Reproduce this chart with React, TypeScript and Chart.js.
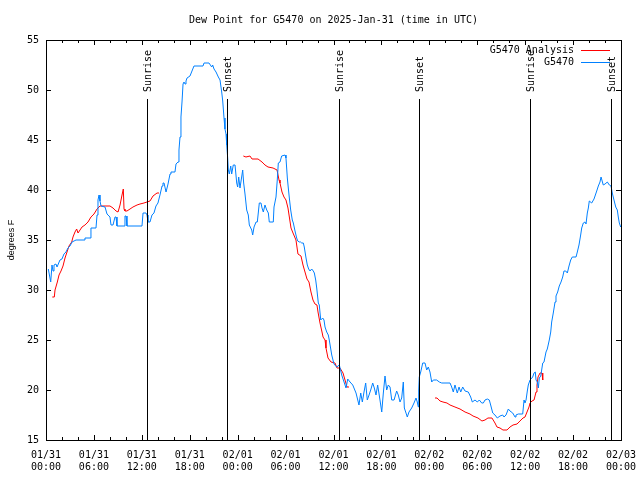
import React, { useEffect, useRef } from "react";
import { Chart, registerables } from "chart.js";

Chart.register(...registerables);

const TITLE = "Dew Point for G5470 on 2025-Jan-31 (time in UTC)";
const Y_TITLE = "degrees F";
const X_DAY_LABELS = ["01/31", "02/01", "02/02", "02/03"];
const Y_MIN = 15;
const Y_MAX = 55;
const X_MIN = 0;
const X_MAX = 72;

// hours since 01/31 00:00 UTC
const obsHours = [
  0.29, 0.59, 0.75, 0.88, 1.0, 1.25, 1.38, 1.75, 2.0, 2.25, 2.5, 2.75, 3.0, 3.26, 3.51, 3.76, 4.76, 4.88, 5.51, 5.63,
  6.26, 6.39, 6.51, 6.64, 6.76, 6.89, 7.39, 7.64, 8.01, 8.14, 8.39, 8.64, 8.77, 8.89, 9.77, 9.89, 10.02, 10.14, 12.02, 12.15,
  12.52, 12.65, 12.77, 13.02, 13.27, 13.52, 13.77, 14.02, 14.27, 14.53, 14.65, 14.78, 15.03, 15.28, 15.53, 15.65, 16.15, 16.28, 16.53, 16.65,
  16.78, 16.9, 17.03, 17.16, 17.28, 17.41, 17.53, 17.66, 18.03, 18.28, 18.53, 19.66, 19.79, 20.41, 20.75, 20.87, 21.04, 21.29, 21.58, 21.79,
  22.0, 22.13, 22.29, 22.41, 22.54, 22.63, 22.75, 22.83, 22.95, 23.13, 23.25, 23.45, 23.67, 23.88, 24.0, 24.13, 24.29, 24.5, 24.63, 24.75,
  24.92, 25.13, 25.33, 25.46, 25.76, 25.88, 26.05, 26.3, 26.46, 26.58, 26.71, 26.92, 27.05, 27.21, 27.42, 27.64, 27.84, 27.96, 28.46, 28.55,
  28.8, 28.96, 29.09, 29.3, 29.51, 29.93, 30.05, 30.22, 30.34, 30.47, 30.64, 30.84, 30.97, 31.18, 31.39, 31.52, 31.72, 31.89, 32.02, 32.22,
  32.34, 32.56, 32.72, 32.89, 33.06, 33.27, 33.47, 33.6, 33.77, 33.9, 34.1, 34.22, 34.4, 34.65, 34.81, 34.94, 35.15, 35.35, 35.47, 35.78,
  36.06, 36.4, 36.73, 37.03, 37.32, 37.57, 37.78, 38.07, 38.41, 38.82, 39.19, 39.41, 39.61, 39.82, 40.03, 40.23, 40.45, 40.66, 40.91, 41.11,
  41.32, 41.53, 41.82, 42.04, 42.24, 42.45, 42.66, 42.86, 43.08, 43.29, 43.58, 43.91, 44.11, 44.33, 44.54, 44.74, 44.87, 45.08, 45.24, 45.45,
  45.79, 46.08, 46.33, 46.49, 46.62, 46.67, 46.74, 46.92, 47.17, 47.46, 47.67, 47.87, 48.08, 48.3, 48.5, 48.92, 49.25, 49.55, 50.59, 50.8,
  51.0, 51.21, 51.5, 51.72, 51.93, 52.18, 52.47, 52.88, 53.18, 53.38, 53.72, 54.01, 54.26, 54.56, 54.76, 54.97, 55.26, 55.51, 55.68, 55.94,
  56.22, 56.51, 56.85, 57.19, 57.35, 57.6, 57.89, 58.1, 58.44, 58.73, 58.85, 59.14, 59.69, 59.86, 59.98, 60.11, 60.27, 60.39, 60.61, 60.94,
  61.11, 61.27, 61.36, 61.52, 61.65, 61.77, 61.95, 62.2, 62.36, 62.61, 62.77, 63.02, 63.2, 63.32, 63.52, 63.74, 63.86, 64.07, 64.27, 64.49,
  64.7, 64.86, 65.08, 65.28, 65.49, 65.7, 65.9, 66.37, 66.53, 66.74, 66.95, 67.08, 67.28, 67.49, 67.62, 67.78, 67.91, 68.03, 68.33, 68.62,
  68.96, 69.16, 69.37, 69.5, 69.78, 70.0, 70.29, 70.54, 70.75, 70.91, 71.12, 71.34, 71.54, 71.66, 71.79, 71.96,
];

const obsValues = [
  32.1, 30.8, 32.5, 31.9, 32.5, 32.6, 32.3, 33.0, 33.1, 33.6, 33.8, 34.2, 34.4, 34.8, 34.9, 35.0, 35.0, 35.2, 35.2, 36.2,
  36.2, 37.5, 39.0, 39.5, 38.9, 38.4, 38.3, 37.6, 37.3, 36.5, 36.5, 37.3, 37.3, 36.4, 36.4, 37.4, 37.4, 36.4, 36.4, 37.7,
  37.7, 37.5, 36.8, 36.8, 37.5, 37.7, 38.4, 38.7, 39.5, 40.4, 40.7, 40.7, 39.8, 40.6, 41.6, 41.8, 41.8, 42.6, 42.8, 44.0,
  45.3, 47.3, 48.8, 50.6, 50.8, 50.6, 50.9, 51.2, 51.4, 51.9, 52.4, 52.4, 52.7, 52.7, 52.3, 52.5, 52.1, 51.8, 51.3, 51.0,
  49.8, 48.9, 47.2, 46.1, 45.6, 44.5, 43.2, 42.0, 41.6, 42.4, 41.6, 42.5, 42.5, 40.7, 40.3, 41.3, 40.2, 41.3, 42.0, 40.7,
  39.6, 38.0, 37.5, 36.5, 36.0, 35.5, 36.3, 36.8, 36.8, 37.7, 38.7, 38.7, 38.2, 37.8, 38.5, 38.0, 37.7, 36.8, 36.8, 38.3,
  39.3, 41.0, 42.7, 42.8, 43.4, 43.5, 43.2, 41.2, 40.2, 39.2, 38.0, 37.0, 36.7, 35.9, 35.2, 34.9, 34.8, 34.8, 34.7, 34.7,
  34.3, 33.2, 32.5, 32.1, 31.9, 32.1, 31.9, 31.7, 31.0, 30.2, 28.7, 28.5, 27.0, 27.2, 27.0, 26.3, 25.8, 25.5, 25.0, 23.5,
  22.6, 22.3, 22.5, 21.5, 20.8, 20.2, 21.1, 20.8, 20.5, 19.7, 18.5, 19.7, 18.8, 19.8, 20.7, 19.0, 19.5, 20.0, 20.7, 20.2,
  19.5, 20.5, 19.0, 17.8, 19.7, 21.4, 20.0, 20.5, 20.3, 19.0, 19.0, 19.9, 19.5, 18.8, 19.2, 20.8, 18.2, 17.7, 17.3, 17.8,
  18.2, 18.7, 19.2, 18.8, 18.3, 20.0, 21.3, 21.8, 22.7, 22.7, 22.0, 22.3, 21.8, 20.8, 21.0, 21.0, 20.8, 20.7, 20.7, 20.3,
  19.8, 20.5, 19.7, 20.3, 19.8, 20.3, 19.9, 19.8, 19.3, 18.8, 19.0, 18.8, 19.0, 18.7, 18.7, 19.0, 19.1, 19.0, 18.5, 17.7,
  17.5, 17.2, 17.4, 17.5, 17.3, 17.5, 18.1, 17.9, 17.7, 17.3, 17.5, 17.6, 17.6, 19.0, 18.7, 19.0, 19.9, 20.5, 21.0, 21.3,
  21.7, 21.8, 21.0, 20.8, 20.2, 21.2, 21.4, 22.7, 22.8, 23.8, 24.1, 25.0, 25.8, 26.8, 27.7, 28.8, 29.4, 29.8, 30.4, 30.8,
  31.3, 31.9, 31.9, 31.7, 32.4, 33.0, 33.3, 33.3, 33.8, 34.5, 35.5, 36.2, 36.7, 36.8, 36.6, 37.7, 38.2, 38.9, 38.7, 39.1,
  39.9, 40.4, 40.8, 41.3, 40.5, 40.6, 40.8, 40.5, 40.4, 39.7, 39.0, 38.3, 38.0, 37.3, 36.7, 36.3,
];

// null values mark gaps in the analysis series
const anaHours = [
  0.79, 1.04, 1.13, 1.42, 1.63, 1.88, 2.13, 2.38, 2.63, 2.88, 3.22, 3.38, 3.63, 3.84, 4.01, 4.26, 4.51, 4.88, 5.26, 5.63,
  6.01, 6.39, 6.76, 8.01, 8.39, 8.77, 9.02, 9.27, 9.52, 9.68, 9.77, 9.89, 10.14, 10.52, 10.89, 11.4, 11.77, 12.27, 13.02, 13.4,
  13.9, 14.15, 19.0,
  24.71, 25.04, 25.54, 25.8, 26.55, 27.05, 27.42, 27.8, 28.43, 28.93, 29.18, 29.3, 29.55, 29.8, 30.05, 30.3, 30.49, 30.68, 30.93, 31.3,
  31.55, 31.93, 32.18, 32.43, 32.68, 32.93, 33.18, 33.43, 33.68, 33.93, 34.06, 34.31, 34.56, 34.69, 34.94, 35.06, 35.31, 35.69, 36.19, 36.44,
  36.81, 37.19, 37.44, 37.69, 37.94, 43.0,
  48.71, 48.96, 49.34, 49.71, 50.21, 50.59, 51.21, 51.84, 52.47, 53.09, 53.47, 54.09, 54.59, 54.97, 55.34, 55.84, 56.22, 56.47, 56.85, 57.22,
  57.72, 58.1, 58.48, 58.98, 59.35, 59.73, 59.98, 60.23, 60.48, 60.61, 60.86, 61.11, 61.36, 61.48, 61.61, 61.86, 62.11, 62.2,
];

const anaValues = [
  29.3, 29.3, 30.0, 30.8, 31.5, 31.9, 32.4, 33.2, 33.8, 34.4, 34.8, 35.3, 35.8, 36.1, 35.7, 36.0, 36.3, 36.5, 36.8, 37.3,
  37.6, 38.1, 38.4, 38.4, 38.2, 37.9, 37.8, 38.5, 39.5, 40.1, 38.1, 37.9, 37.9, 38.1, 38.3, 38.5, 38.6, 38.7, 38.9, 39.4,
  39.7, 39.7, null,
  43.4, 43.3, 43.4, 43.1, 43.1, 42.8, 42.5, 42.3, 42.2, 42.0, 41.0, 40.7, 39.8, 39.3, 39.0, 38.2, 37.2, 36.2, 35.7, 35.0,
  33.6, 33.4, 32.5, 31.8, 31.1, 30.8, 29.8, 29.0, 28.6, 28.5, 27.8, 26.7, 25.8, 25.3, 25.0, 24.2, 23.2, 22.8, 22.7, 22.2,
  22.2, 21.7, 21.0, 20.3, 20.3, null,
  19.2, 19.2, 18.9, 18.8, 18.7, 18.5, 18.3, 18.1, 17.8, 17.6, 17.4, 17.2, 16.9, 17.0, 17.2, 17.2, 16.7, 16.3, 16.2, 16.0,
  16.0, 16.3, 16.5, 16.6, 16.9, 17.2, 17.3, 17.8, 18.3, 18.7, 18.9, 19.0, 19.8, 20.5, 21.3, 21.7, 21.7, 21.0,
];

const sunHours = [12.65, 22.7, 36.73, 46.74, 60.6, 70.8];
const sunLabels = ["Sunrise", "Sunset", "Sunrise", "Sunset", "Sunrise", "Sunset"];

const seriesNames = ["G5470 Analysis", "G5470"];
const seriesColors = ["#ff0000", "#0080ff"];

const MONO = "'DejaVu Sans Mono', 'Liberation Mono', monospace";

const decorPlugin = {
  id: "gnuplotDecor",
  afterDatasetsDraw(chart: any) {
    const { ctx, chartArea, scales } = chart;
    const xs = scales.x;
    const ys = scales.y;
    const L = chartArea.left, R = chartArea.right, T = chartArea.top, B = chartArea.bottom;
    ctx.save();
    ctx.strokeStyle = "#000";
    ctx.lineWidth = 1;
    // sunrise / sunset markers
    ctx.font = "10px " + MONO;
    ctx.fillStyle = "#000";
    sunHours.forEach((h, i) => {
      const px = Math.round(xs.getPixelForValue(h)) + 0.5;
      ctx.beginPath();
      ctx.moveTo(px, 99);
      ctx.lineTo(px, B);
      ctx.stroke();
      ctx.save();
      ctx.translate(px + 1, 92);
      ctx.rotate(-Math.PI / 2);
      ctx.textAlign = "left";
      ctx.textBaseline = "middle";
      ctx.fillText(sunLabels[i], 0, 0);
      ctx.restore();
    });
    // border box
    ctx.strokeRect(Math.round(L) + 0.5, Math.round(T) + 0.5, Math.round(R - L), Math.round(B - T));
    // x ticks (inward, mirrored)
    ctx.beginPath();
    for (let h = X_MIN; h <= X_MAX; h += 2) {
      const px = Math.round(xs.getPixelForValue(h)) + 0.5;
      const len = h % 6 === 0 ? 5 : 3;
      ctx.moveTo(px, B);
      ctx.lineTo(px, B - len);
      ctx.moveTo(px, T);
      ctx.lineTo(px, T + len);
    }
    // y ticks
    for (let v = Y_MIN; v <= Y_MAX; v += 5) {
      const py = Math.round(ys.getPixelForValue(v)) + 0.5;
      ctx.moveTo(L, py);
      ctx.lineTo(L + 5, py);
      ctx.moveTo(R, py);
      ctx.lineTo(R - 5, py);
    }
    ctx.stroke();
    // title
    ctx.fillStyle = "#000";
    ctx.font = "10px " + MONO;
    ctx.textAlign = "center";
    ctx.textBaseline = "middle";
    ctx.fillText(TITLE, (L + R) / 2, 20);
    // legend
    ctx.textAlign = "right";
    const rows = [50, 62];
    seriesNames.forEach((name, i) => {
      ctx.fillStyle = "#000";
      ctx.fillText(name, 574, rows[i]);
      ctx.strokeStyle = seriesColors[i];
      ctx.beginPath();
      ctx.moveTo(581, rows[i] + 0.5);
      ctx.lineTo(610, rows[i] + 0.5);
      ctx.stroke();
    });
    ctx.restore();
  },
};

function pad2(n: number) {
  return n < 10 ? "0" + n : String(n);
}

export default function App() {
  const ref = useRef<HTMLCanvasElement | null>(null);
  useEffect(() => {
    if (!ref.current) return;
    const obs = obsHours.map((h, i) => ({ x: h, y: obsValues[i] }));
    const ana = anaHours.map((h, i) => ({ x: h, y: anaValues[i] }));
    const chart = new Chart(ref.current, {
      type: "line",
      data: {
        datasets: [
          {
            label: seriesNames[0],
            data: ana as any,
            borderColor: seriesColors[0],
            borderWidth: 1,
            pointRadius: 0,
            tension: 0,
            spanGaps: false,
            order: 2,
          },
          {
            label: seriesNames[1],
            data: obs as any,
            borderColor: seriesColors[1],
            borderWidth: 1,
            pointRadius: 0,
            tension: 0,
            order: 1,
          },
        ],
      },
      options: {
        animation: false,
        responsive: false,
        devicePixelRatio: 1,
        layout: { padding: { left: 0, right: 19, top: 40, bottom: 0 } },
        plugins: {
          legend: { display: false },
          title: { display: false },
          tooltip: { enabled: false },
        },
        scales: {
          x: {
            type: "linear",
            min: X_MIN,
            max: X_MAX,
            grid: { display: false, drawTicks: false },
            border: { display: false },
            ticks: {
              stepSize: 6,
              autoSkip: false,
              maxRotation: 0,
              padding: 9,
              color: "#000",
              font: { family: MONO, size: 10, lineHeight: 1.2 },
              callback: (v: any) => {
                const n = Number(v);
                const d = Math.floor(n / 24);
                return [X_DAY_LABELS[d], pad2(n % 24) + ":00"];
              },
            },
            afterFit: (s: any) => {
              s.height = 40;
              s.paddingLeft = 0;
              s.paddingRight = 0;
            },
          },
          y: {
            min: Y_MIN,
            max: Y_MAX,
            grid: { display: false, drawTicks: false },
            border: { display: false },
            ticks: {
              stepSize: 5,
              padding: 7,
              color: "#000",
              font: { family: MONO, size: 10 },
            },
            title: {
              display: true,
              text: Y_TITLE,
              color: "#000",
              font: { family: "'Liberation Sans', Arial, sans-serif", size: 9, lineHeight: 1.2 },
              padding: { top: 6, bottom: 0 },
            },
            afterFit: (s: any) => {
              s.width = 46;
              s.paddingTop = 0;
              s.paddingBottom = 0;
            },
          },
        },
      },
      plugins: [decorPlugin],
    });
    return () => chart.destroy();
  }, []);
  return (
    <div style={{ position: "absolute", left: 0, top: 0, width: 640, height: 480, background: "#fff" }}>
      <canvas ref={ref} width={640} height={480} style={{ width: 640, height: 480 }} />
    </div>
  );
}
